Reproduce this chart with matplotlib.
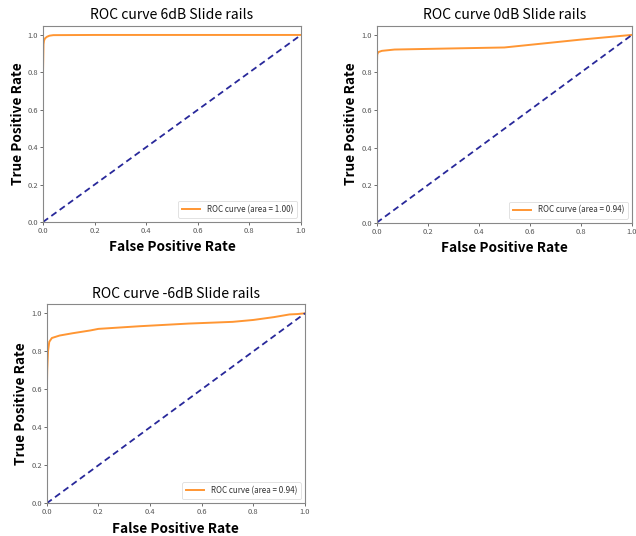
import matplotlib
matplotlib.use("Agg")
import matplotlib.pyplot as plt

plt.rcParams['font.family'] = ['Noto Sans CJK KR', 'DejaVu Sans']

titles = ["ROC curve 6dB Slide rails", "ROC curve 0dB Slide rails", "ROC curve -6dB Slide rails"]
aucs = [1.00, 0.94, 0.94]

fpr_6db = [0.0, 0.0, 0.002, 0.004, 0.008, 0.015, 0.025, 0.04, 0.2, 1.0]
tpr_6db = [0.0, 0.80, 0.95, 0.97, 0.982, 0.99, 0.996, 0.999, 1.0, 1.0]

fpr_0db = [0.0, 0.0, 0.002, 0.006, 0.02, 0.07, 0.3, 0.5, 0.8, 1.0]
tpr_0db = [0.0, 0.80, 0.895, 0.908, 0.915, 0.922, 0.928, 0.933, 0.975, 1.0]

fpr_m6db = [0.0, 0.0, 0.002, 0.005, 0.01, 0.02, 0.05, 0.1, 0.17, 0.2, 0.36, 0.55, 0.72, 0.8, 0.88, 0.94, 0.97, 1.0]
tpr_m6db = [0.0, 0.55, 0.70, 0.80, 0.85, 0.87, 0.883, 0.895, 0.91, 0.918, 0.932, 0.946, 0.955, 0.965, 0.98, 0.994, 0.996, 1.0]

fprs = [fpr_6db, fpr_0db, fpr_m6db]
tprs = [tpr_6db, tpr_0db, tpr_m6db]

W, H = 636, 536
fig = plt.figure(figsize=(W / 100, H / 100), dpi=100)

# axes rectangles in pixels: left, top, right, bottom(y=0 line)
rects = [(43, 25.6, 301, 222), (376.7, 25.5, 632, 222.7), (46.7, 303.8, 305, 503.3)]
ticks = [0.0, 0.2, 0.4, 0.6, 0.8, 1.0]

for i in range(3):
    l, t, r, b = rects[i]
    ax = fig.add_axes([l / W, 1 - b / H, (r - l) / W, (b - t) / H])
    ax.plot(fprs[i], tprs[i], color='#ff9633', lw=1.4,
            label='ROC curve (area = %0.2f)' % aucs[i])
    ax.plot([0, 1], [0, 1], color='#28289a', lw=1.3, linestyle='--', dashes=(3.5, 2.2))
    ax.set_xlim(0.0, 1.0)
    ax.set_ylim(0.0, 1.05)
    ax.set_xticks(ticks)
    ax.set_yticks(ticks)
    ax.set_xticklabels(['%.1f' % v for v in ticks])
    ax.set_yticklabels(['%.1f' % v for v in ticks])
    ax.tick_params(labelsize=5.4, length=2, width=0.6, pad=1.5, colors='#555555')
    for s in ax.spines.values():
        s.set_color('#888888')
        s.set_linewidth(0.8)
    ax.set_xlabel('False Positive Rate', fontsize=9.8, fontweight='bold', labelpad=4)
    ax.set_ylabel('True Positive Rate', fontsize=9.8, fontweight='bold', labelpad=2)
    ax.set_title(titles[i], fontsize=10.1, pad=4.5)
    leg = ax.legend(loc='lower right', fontsize=5.8, handlelength=2.2, borderpad=0.5,
                    framealpha=1, edgecolor='#dddddd', fancybox=True)
    leg.get_frame().set_linewidth(0.6)
    for txt in leg.get_texts():
        txt.set_color('#333333')

fig.savefig('out.png', dpi=100)
